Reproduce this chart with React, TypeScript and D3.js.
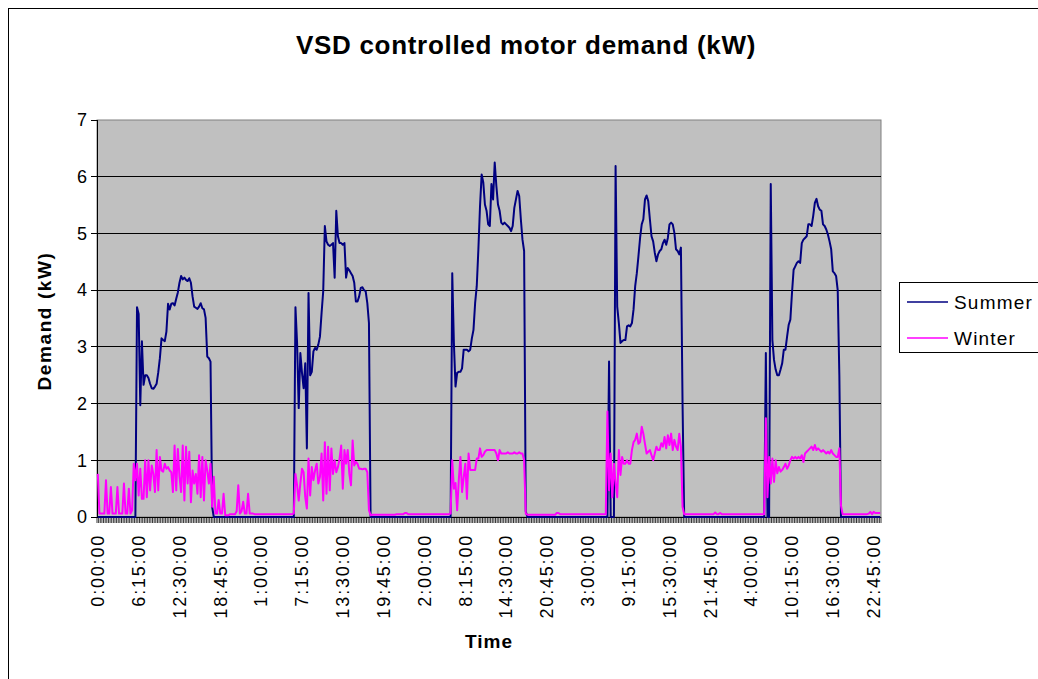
import React from 'react';
import * as d3 from 'd3';

// 15-minute readings, 96 per day, five days
const summerDay1 = [
  0, 0, 0, 0, 0, 0, 0, 0, 0, 0, 0, 0, 0, 0, 0, 0, 0, 0, 0, 0, 0, 0, 0, 0,
  3.7, 3.58, 1.97, 3.1, 2.33, 2.5,
  2.5, 2.45, 2.35, 2.27, 2.26, 2.3, 2.35, 2.55, 2.8, 3.15,
  3.12, 3.1, 3.27, 3.76, 3.66, 3.76, 3.77, 3.73, 3.85, 3.96,
  4.13, 4.25, 4.19, 4.22, 4.18, 4.16, 4.21, 4.13, 3.89, 3.71,
  3.69, 3.67, 3.71, 3.77, 3.68, 3.66, 3.51, 2.83, 2.8, 2.74,
  0.18, 0, 0, 0, 0, 0, 0, 0, 0, 0,
  0, 0, 0, 0, 0, 0, 0, 0, 0, 0,
  0, 0, 0, 0, 0, 0,
];
const summerDay2 = [
  0, 0, 0, 0, 0, 0, 0, 0, 0, 0, 0, 0, 0, 0, 0, 0, 0, 0, 0, 0, 0, 0, 0, 0, 0,
  3.7, 3.07, 1.92, 2.89, 2.54,
  2.27, 2.71, 1.21, 3.95, 2.5, 2.56, 2.92, 2.98, 2.95, 3.04,
  3.18, 3.6, 3.98, 5.13, 4.86, 4.8, 4.78, 4.8, 4.83, 4.22,
  5.4, 4.95, 4.83, 4.83, 4.8, 4.83, 4.22, 4.39, 4.35, 4.3,
  4.25, 4.13, 3.8, 3.8, 3.89, 4.04, 4.05, 4.0, 3.98, 3.77,
  3.42, 0, 0, 0, 0, 0, 0, 0, 0, 0,
  0, 0, 0, 0, 0, 0, 0, 0, 0, 0,
  0, 0, 0, 0, 0, 0,
];
const summerDay3 = [
  0, 0, 0, 0, 0, 0, 0, 0, 0, 0, 0, 0, 0, 0, 0, 0, 0, 0, 0, 0, 0, 0, 0, 0, 0,
  4.3, 3.07, 2.3, 2.54, 2.56,
  2.56, 2.62, 2.95, 2.95, 2.95, 2.92, 2.95, 3.15, 3.3, 3.77,
  4.07, 4.72, 5.48, 6.04, 5.9, 5.51, 5.4, 5.16, 5.13, 5.87,
  5.6, 6.25, 5.84, 5.51, 5.4, 5.19, 5.16, 5.19, 5.16, 5.13,
  5.1, 5.04, 5.13, 5.45, 5.6, 5.75, 5.66, 5.25, 4.89, 4.69,
  0.1, 0, 0, 0, 0, 0, 0, 0, 0, 0,
  0, 0, 0, 0, 0, 0, 0, 0, 0, 0,
  0, 0, 0, 0, 0, 0,
];
const summerDay4 = [
  0, 0, 0, 0, 0, 0, 0, 0, 0, 0, 0, 0, 0, 0, 0, 0, 0, 0, 0, 0, 0, 0, 0, 0, 0,
  2.74, 0, 0, 0, 6.19,
  3.71, 3.42, 3.07, 3.1, 3.12, 3.12, 3.36, 3.38, 3.36, 3.42,
  3.66, 4.07, 4.3, 4.6, 4.92, 5.16, 5.25, 5.6, 5.67, 5.57,
  5.25, 4.95, 4.86, 4.66, 4.51, 4.63, 4.69, 4.72, 4.83, 4.89,
  4.8, 4.92, 5.16, 5.19, 5.16, 5.01, 4.72, 4.69, 4.63, 4.75,
  2.0, 0, 0, 0, 0, 0, 0, 0, 0, 0,
  0, 0, 0, 0, 0, 0, 0, 0, 0, 0,
  0, 0, 0, 0, 0, 0,
];
const summerDay5 = [
  0, 0, 0, 0, 0, 0, 0, 0, 0, 0, 0, 0, 0, 0, 0, 0, 0, 0, 0, 0, 0, 0, 0, 0, 0,
  2.89, 0, 0, 5.87, 3.12,
  2.77, 2.6, 2.5, 2.5, 2.6, 2.71, 2.95, 2.95, 3.18, 3.39,
  3.48, 3.95, 4.36, 4.42, 4.48, 4.51, 4.48, 4.83, 4.89, 4.92,
  4.95, 5.16, 5.16, 5.13, 5.31, 5.54, 5.61, 5.48, 5.42, 5.4,
  5.16, 5.13, 5.07, 4.98, 4.86, 4.72, 4.33, 4.3, 4.25, 4.0,
  2.5, 0, 0, 0, 0, 0, 0, 0, 0, 0,
  0, 0, 0, 0, 0, 0, 0, 0, 0, 0,
  0, 0, 0, 0, 0, 0,
];

const winterDay1 = [
  0.76, 0.06, 0.06, 0.06, 0.06, 0.65, 0.06, 0.06, 0.53, 0.06,
  0.06, 0.06, 0.53, 0.06, 0.06, 0.06, 0.59, 0.06, 0.06, 0.5,
  0.06, 0.12, 0.94, 0.65, 0.94, 0.38, 0.85, 0.32, 0.32, 1.0,
  0.35, 1.0, 0.47, 0.91, 0.76, 0.44, 1.18, 0.47, 1.06, 0.82,
  0.8, 0.94, 0.85, 0.88, 0.82, 0.79, 0.44, 1.26, 0.47, 1.2,
  0.71, 0.44, 1.26, 0.29, 1.24, 0.59, 1.15, 0.26, 0.82, 0.59,
  0.76, 0.41, 1.09, 0.35, 1.06, 0.29, 1.0, 0.82, 0.59, 0.94,
  0.18, 0.71, 0.06, 0.06, 0.3, 0.06, 0.06, 0.41, 0.03, 0.03,
  0.03, 0.05, 0.05, 0.05, 0.05, 0.1, 0.56, 0.06, 0.1, 0.27,
  0.06, 0.06, 0.41, 0.06, 0.06, 0.06,
];
const winterDay2 = [
  0.05, 0.05, 0.05, 0.05, 0.05, 0.05, 0.05, 0.05, 0.05, 0.05, 0.05, 0.05,
  0.05, 0.05, 0.05, 0.05, 0.05, 0.05, 0.05, 0.05, 0.05, 0.05, 0.05, 0.05,
  0.06, 0.76, 0.56, 0.29, 0.59, 0.85,
  0.79, 0.35, 0.15, 1.03, 0.38, 0.88, 0.65, 0.82, 0.94, 0.59,
  0.71, 1.12, 0.29, 1.32, 0.41, 1.24, 0.47, 1.21, 0.76, 1.0,
  0.79, 0.88, 1.03, 1.26, 0.5, 1.18, 0.94, 1.18, 0.76, 0.56,
  1.35, 0.91, 0.97, 0.94, 0.85, 0.85, 0.84, 0.85, 0.85, 0.79,
  0.12, 0.03, 0.04, 0.04, 0.04, 0.04, 0.04, 0.04, 0.04, 0.04,
  0.04, 0.04, 0.04, 0.04, 0.04, 0.04, 0.04, 0.05, 0.05, 0.05,
  0.05, 0.05, 0.07, 0.07, 0.05, 0.05,
];
const winterDay3 = [
  0.05, 0.05, 0.05, 0.05, 0.05, 0.05, 0.05, 0.05, 0.05, 0.05, 0.05, 0.05,
  0.05, 0.05, 0.05, 0.05, 0.05, 0.05, 0.05, 0.05, 0.05, 0.05, 0.05, 0.05,
  0.06, 1.0, 0.5, 0.6, 0.12, 0.65,
  1.06, 0.44, 0.7, 0.94, 0.32, 1.12, 0.83, 0.83, 0.83, 0.83,
  1.03, 1.03, 1.21, 1.06, 1.09, 1.15, 1.18, 1.18, 1.18, 1.18,
  1.18, 1.18, 1.12, 1.0, 1.18, 1.12, 1.12, 1.12, 1.12, 1.14,
  1.12, 1.12, 1.12, 1.14, 1.12, 1.12, 1.14, 1.12, 1.12, 1.0,
  0.06, 0.04, 0.04, 0.04, 0.04, 0.04, 0.04, 0.04, 0.04, 0.04,
  0.04, 0.04, 0.04, 0.04, 0.04, 0.04, 0.04, 0.04, 0.04, 0.07,
  0.07, 0.05, 0.05, 0.05, 0.05, 0.05,
];
const winterDay4 = [
  0.05, 0.05, 0.05, 0.05, 0.05, 0.05, 0.05, 0.05, 0.05, 0.05, 0.05, 0.05,
  0.05, 0.05, 0.05, 0.05, 0.05, 0.05, 0.05, 0.05, 0.05, 0.05, 0.05, 0.05,
  1.86, 0.47, 1.12, 0.35, 0.94, 0.59,
  0.35, 1.18, 0.74, 1.06, 0.94, 0.94, 1.0, 0.94, 0.94, 1.18,
  1.32, 1.36, 1.47, 1.29, 1.32, 1.59, 1.47, 1.29, 1.12, 1.15,
  1.18, 1.09, 1.0, 1.12, 1.24, 1.18, 1.18, 1.3, 1.24, 1.41,
  1.21, 1.44, 1.27, 1.47, 1.18, 1.36, 1.24, 1.18, 1.47, 1.24,
  0.18, 0.05, 0.05, 0.05, 0.05, 0.05, 0.05, 0.05, 0.05, 0.05,
  0.05, 0.05, 0.05, 0.05, 0.05, 0.05, 0.05, 0.05, 0.05, 0.05,
  0.08, 0.05, 0.05, 0.07, 0.05, 0.05,
];
const winterDay5 = [
  0.05, 0.05, 0.05, 0.05, 0.05, 0.05, 0.05, 0.05, 0.05, 0.05, 0.05, 0.05,
  0.05, 0.05, 0.05, 0.05, 0.05, 0.05, 0.05, 0.05, 0.05, 0.05, 0.05, 0.05, 0.05,
  1.74, 0.35, 1.06, 0.59, 1.03,
  0.62, 1.0, 0.77, 0.88, 0.8, 0.83, 0.88, 0.94, 0.85, 0.91,
  1.0, 1.06, 1.03, 1.06, 1.03, 1.06, 1.03, 1.09, 0.97, 1.12,
  1.15, 1.18, 1.21, 1.24, 1.18, 1.27, 1.18, 1.21, 1.18, 1.15,
  1.18, 1.15, 1.12, 1.15, 1.12, 1.18, 1.12, 1.09, 1.06, 1.06,
  1.21, 0.2, 0.05, 0.05, 0.05, 0.05, 0.05, 0.05, 0.05, 0.05,
  0.05, 0.05, 0.05, 0.05, 0.05, 0.05, 0.05, 0.05, 0.06, 0.09,
  0.05, 0.09, 0.07, 0.07, 0.07, 0.07,
];

const xTickLabels = [
  '0:00:00', '6:15:00', '12:30:00', '18:45:00',
  '1:00:00', '7:15:00', '13:30:00', '19:45:00',
  '2:00:00', '8:15:00', '14:30:00', '20:45:00',
  '3:00:00', '9:15:00', '15:30:00', '21:45:00',
  '4:00:00', '10:15:00', '16:30:00', '22:45:00',
];
const labelEvery = 25;
const yTicks = [0, 1, 2, 3, 4, 5, 6, 7];

const summer = [...summerDay1, ...summerDay2, ...summerDay3, ...summerDay4, ...summerDay5];
const winter = [...winterDay1, ...winterDay2, ...winterDay3, ...winterDay4, ...winterDay5];
const categories = summer.map((_, i) => i);

const series = [
  { name: 'Summer', values: summer, color: '#000080' },
  { name: 'Winter', values: winter, color: '#FF00FF' },
];

const FONT = 'Liberation Sans, Arial, Helvetica, sans-serif';

export default function App() {
  // plot box in page coordinates (svg is placed at the 8px body margin)
  const left = 97;
  const right = 881;
  const top = 120;
  const bottom = 517;

  const x = d3.scaleBand<number>().domain(categories).range([left, right]);
  const y = d3.scaleLinear().domain([0, 7]).range([bottom, top]);
  const cx = (i: number) => (x(i) as number) + x.bandwidth() / 2;

  const line = d3
    .line<number>()
    .x((_, i) => cx(i))
    .y((d) => y(d));

  const tickXs = categories.map((i) => x(i) as number).concat([right]);

  return (
    <svg
      width={1030}
      height={671}
      style={{ display: 'block', position: 'absolute', left: 8, top: 8 }}
      fontFamily={FONT}
    >
      <g transform="translate(-8,-8)">
        <rect x={8.5} y={8.5} width={1040} height={700} fill="#fff" stroke="#000" />

        <text x={526} y={54} textAnchor="middle" fontSize={26} fontWeight="bold" letterSpacing={0.7}>
          VSD controlled motor demand (kW)
        </text>

        <rect x={left} y={top} width={right - left} height={bottom - top} fill="#C0C0C0" stroke="#808080" />

        {yTicks.slice(1, 7).map((t) => (
          <line key={t} x1={left} x2={right} y1={y(t)} y2={y(t)} stroke="#000" shapeRendering="crispEdges" />
        ))}

        {/* axes */}
        <line x1={left} x2={left} y1={top} y2={bottom} stroke="#000" shapeRendering="crispEdges" />
        <line x1={left} x2={right} y1={bottom} y2={bottom} stroke="#000" shapeRendering="crispEdges" />
        {yTicks.map((t) => (
          <g key={t}>
            <line x1={left - 6} x2={left} y1={y(t)} y2={y(t)} stroke="#000" shapeRendering="crispEdges" />
            <text x={87} y={y(t)} dy="0.35em" textAnchor="end" fontSize={18}>
              {t}
            </text>
          </g>
        ))}
        {tickXs.map((tx, i) => (
          <line key={i} x1={tx} x2={tx} y1={bottom} y2={bottom + 6} stroke="#000" strokeWidth={0.8} />
        ))}
        {xTickLabels.map((lab, k) => {
          const px = cx(k * labelEvery);
          return (
            <text
              key={lab + k}
              transform={`translate(${px},534) rotate(-90)`}
              dy="0.35em"
              textAnchor="end"
              fontSize={18}
              letterSpacing={1.8}
            >
              {lab}
            </text>
          );
        })}

        {series.map((s) => (
          <path key={s.name} d={line(s.values) || ''} fill="none" stroke={s.color} strokeWidth={2} strokeLinejoin="round" />
        ))}

        <text transform="translate(44,321) rotate(-90)" dy="0.35em" textAnchor="middle" fontSize={19} fontWeight="bold" letterSpacing={1.6}>
          Demand (kW)
        </text>
        <text x={489} y={648} textAnchor="middle" fontSize={19} fontWeight="bold" letterSpacing={1}>
          Time
        </text>

        {/* legend */}
        <rect x={899.5} y={282.5} width={160} height={70} fill="#fff" stroke="#000" />
        {series.map((s, k) => (
          <g key={s.name}>
            <line x1={907} x2={948} y1={302 + k * 36} y2={302 + k * 36} stroke={s.color} strokeWidth={1.5} />
            <text x={954} y={302 + k * 36} dy="0.35em" fontSize={19} letterSpacing={1.2}>
              {s.name}
            </text>
          </g>
        ))}
      </g>
    </svg>
  );
}
